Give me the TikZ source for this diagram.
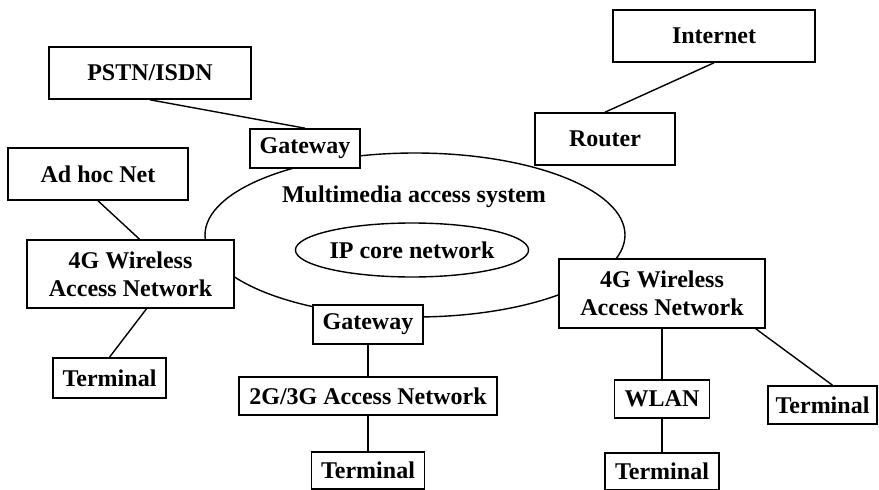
\documentclass[tikz,border=0pt]{standalone}
\usepackage{fontspec}
\setmainfont{Liberation Serif}
\usepackage{tikz}
\usetikzlibrary{positioning}
\usetikzlibrary{shapes.geometric}
\tikzstyle{netbox} = [rectangle, draw=black, line width=1.6pt, fill=white, inner sep=0pt, align=center, font=\fontsize{24}{28}\selectfont\bfseries]
\tikzstyle{cloud} = [ellipse, draw=black, line width=1.4pt, inner sep=0pt]
\tikzstyle{link} = [line width=1.4pt, -]

\begin{document}
\begin{tikzpicture}[x=1pt, y=-1pt]
    \useasboundingbox (0,0) rectangle (879,490);
    % core ellipses
    \node(mas)[cloud, minimum width=420pt, minimum height=164pt] at (415,235) {};
    \node(mastext)[font=\fontsize{24}{28}\selectfont\bfseries] at (414,197) {Multimedia access system};
    \node(ip)[cloud, minimum width=216pt, minimum height=54pt, font=\fontsize{24}{28}\selectfont\bfseries] at (412,250) {IP core network};
    %
    \node(pstn)[netbox, minimum width=202pt, minimum height=52pt] at (150,73) {PSTN/ISDN};
    \node(gwa)[netbox, minimum width=110pt, minimum height=39pt] at (305,148.5) {Gateway};
    \node(adhoc)[netbox, minimum width=180pt, minimum height=52pt] at (98,174) {Ad hoc Net};
    \node(inet)[netbox, minimum width=202pt, minimum height=52pt] at (714,36) {Internet};
    \node(rt)[netbox, minimum width=140pt, minimum height=52pt] at (605,139) {Router};
    \node(wl)[netbox, minimum width=207pt, minimum height=68pt] at (130.5,274) {4G Wireless\\Access Network};
    \node(tl)[netbox, minimum width=113pt, minimum height=40pt] at (109.5,378) {Terminal};
    \node(gwb)[netbox, minimum width=110pt, minimum height=39pt] at (368,324.5) {Gateway};
    \node(ggg)[netbox, minimum width=258pt, minimum height=38pt] at (368,396) {2G/3G Access Network};
    \node(tb)[netbox, minimum width=113pt, minimum height=37pt] at (368,470.5) {Terminal};
    \node(wr)[netbox, minimum width=206pt, minimum height=69pt] at (662,293.5) {4G Wireless\\Access Network};
    \node(wlan)[netbox, minimum width=95pt, minimum height=38pt] at (662,399) {WLAN};
    \node(tw)[netbox, minimum width=114pt, minimum height=37pt] at (662,471.5) {Terminal};
    \node(tr)[netbox, minimum width=109pt, minimum height=38pt] at (822.5,405) {Terminal};
    %
    \draw [link] (pstn.south)--(gwa.north);
    \draw [link] (adhoc.south)--([xshift=9pt]wl.north);
    \draw [link] (inet.south)--(rt.north);
    \draw [link] ([xshift=16pt]wl.south)--(tl.north);
    \draw [link] (gwb.south)--(ggg.north);
    \draw [link] (ggg.south)--(tb.north);
    \draw [link] (wr.south)--(wlan.north);
    \draw [link] (wlan.south)--(tw.north);
    \draw [link] ([xshift=-10pt]wr.south east)--([xshift=10pt]tr.north);
\end{tikzpicture}
\end{document}
